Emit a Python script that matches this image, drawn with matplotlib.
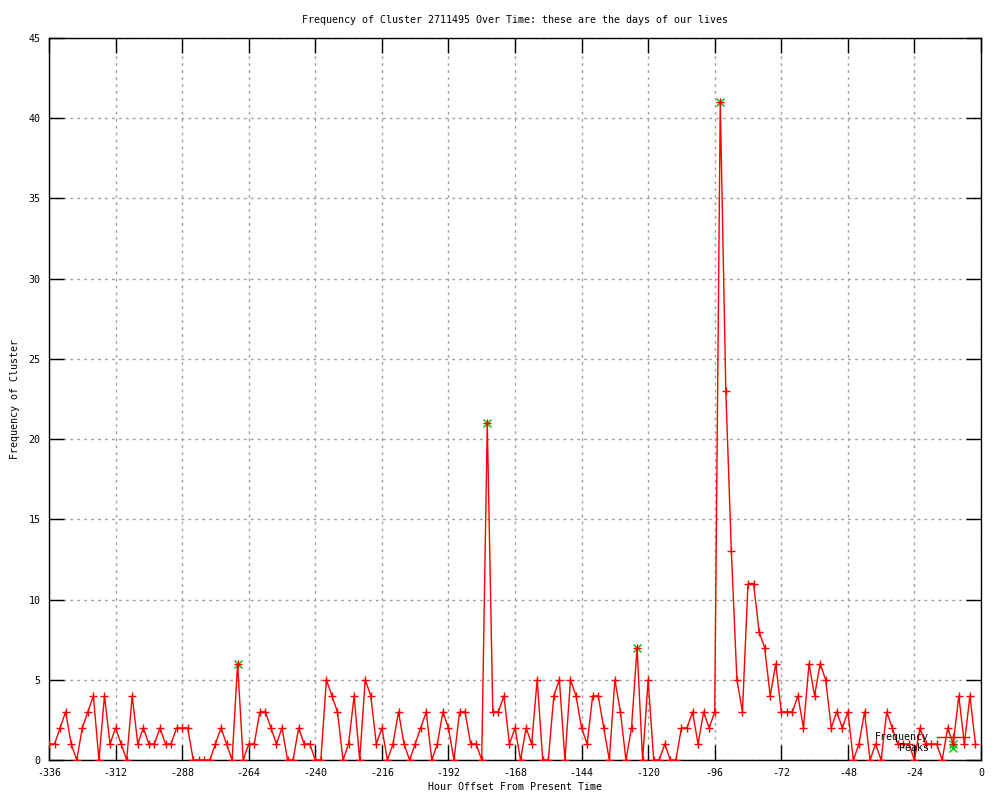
import matplotlib
matplotlib.use("Agg")
import matplotlib.pyplot as plt

plt.rcParams["axes.unicode_minus"] = False

# hourly counts, one value every 2 hours from -336 to -2
hours = list(range(-336, 0, 2))
freq = [
    1, 1, 2, 3, 1, 0, 2, 3, 4, 0,      # -336 .. -318
    4, 1, 2, 1, 0, 4, 1, 2, 1, 1,      # -316 .. -298
    2, 1, 1, 2, 2, 2, 0, 0, 0, 0,      # -296 .. -278
    1, 2, 1, 0, 6, 0, 1, 1, 3, 3,      # -276 .. -258
    2, 1, 2, 0, 0, 2, 1, 1, 0, 0,      # -256 .. -238
    5, 4, 3, 0, 1, 4, 0, 5, 4, 1,      # -236 .. -218
    2, 0, 1, 3, 1, 0, 1, 2, 3, 0,      # -216 .. -198
    1, 3, 2, 0, 3, 3, 1, 1, 0, 21,     # -196 .. -178
    3, 3, 4, 1, 2, 0, 2, 1, 5, 0,      # -176 .. -158
    0, 4, 5, 0, 5, 4, 2, 1, 4, 4,      # -156 .. -138
    2, 0, 5, 3, 0, 2, 7, 0, 5, 0,      # -136 .. -118
    0, 1, 0, 0, 2, 2, 3, 1, 3, 2,      # -116 .. -98
    3, 41, 23, 13, 5, 3, 11, 11, 8, 7, # -96 .. -78
    4, 6, 3, 3, 3, 4, 2, 6, 4, 6,      # -76 .. -58
    5, 2, 3, 2, 3, 0, 1, 3, 0, 1,      # -56 .. -38
    0, 3, 2, 1, 1, 1, 0, 2, 1, 1,      # -36 .. -18
    1, 0, 2, 1, 4, 1, 4, 1,            # -16 .. -2
]

peak_hours = [-268, -178, -124, -94, -10]
peak_vals = [6, 21, 7, 41, 1]

x_ticks = list(range(-336, 1, 24))
y_ticks = list(range(0, 46, 5))

mono = "DejaVu Sans Mono"
fs = 7.2

fig = plt.figure(figsize=(10, 8), dpi=100)
ax = fig.add_axes([0.049, 0.05, 0.932, 0.9025])

ax.plot(peak_hours, peak_vals, linestyle="none", marker="x", color="#00c000",
        markersize=5.5, markeredgewidth=1, label="Peaks", zorder=2)
ax.plot(hours, freq, color="red", linewidth=1, marker="+", markersize=6,
        markeredgewidth=1, label="Frequency", zorder=3)

ax.set_xlim(-336, 0)
ax.set_ylim(0, 45)
ax.set_xticks(x_ticks)
ax.set_yticks(y_ticks)
ax.tick_params(direction="in", length=11, width=1, top=True, right=True,
               labelsize=fs, pad=6)
for lab in ax.get_xticklabels() + ax.get_yticklabels():
    lab.set_family(mono)
ax.grid(True, color="#a0a0a0", linestyle=(0, (2, 3)), linewidth=1)
for s in ax.spines.values():
    s.set_linewidth(1)

ax.set_title("Frequency of Cluster 2711495 Over Time: these are the days of our lives",
             family=mono, fontsize=fs, pad=11)
ax.set_xlabel("Hour Offset From Present Time", family=mono, fontsize=fs, labelpad=3)
ax.set_ylabel("Frequency of Cluster", family=mono, fontsize=fs, labelpad=6)

handles, labels = ax.get_legend_handles_labels()
ax.legend(handles[::-1], labels[::-1], loc="lower right", frameon=False,
          markerfirst=False, prop={"family": mono, "size": fs},
          bbox_to_anchor=(0.995, 0.0), handlelength=3.2, labelspacing=0.05,
          borderaxespad=0.3)

fig.savefig("out.png", dpi=100)
